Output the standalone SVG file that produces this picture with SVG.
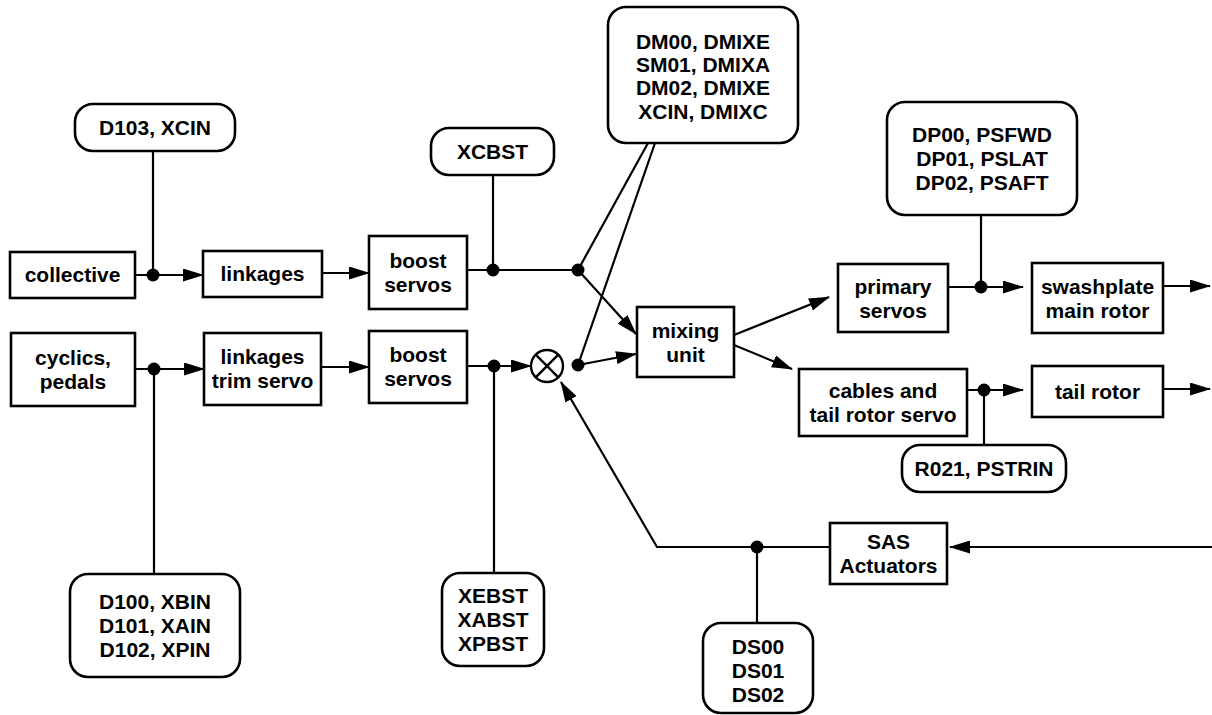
<svg xmlns="http://www.w3.org/2000/svg" width="1212" height="715" viewBox="0 0 1212 715">
  <defs>
    <marker id="arrow" markerUnits="userSpaceOnUse" markerWidth="21" markerHeight="13" refX="20" refY="6.5" orient="auto">
      <path d="M0,0 L21,6.5 L0,13 z" fill="#000"/>
    </marker>
    <style>
      .box { fill: #fff; stroke: #000; stroke-width: 2.6; }
      .tag { fill: #fff; stroke: #000; stroke-width: 2.6; }
      .wire { fill: none; stroke: #000; stroke-width: 2.2; }
      .flow { fill: none; stroke: #000; stroke-width: 2.2; marker-end: url(#arrow); }
      .dot { fill: #000; }
      text { font-family: "Liberation Sans", Arial, Helvetica, sans-serif; font-weight: bold; font-size: 21px; fill: #000; text-anchor: middle; }
    </style>
  </defs>

  <rect width="1212" height="715" fill="#fff"/>

  <!-- connectors -->
  <g id="connectors">
    <!-- collective path -->
    <line class="wire" x1="153" y1="151" x2="153" y2="275"/>
    <line class="flow" x1="135" y1="275" x2="203" y2="275"/>
    <line class="flow" x1="322" y1="273" x2="369" y2="273"/>
    <line class="wire" x1="467" y1="270" x2="578" y2="270"/>
    <line class="wire" x1="493" y1="175" x2="493" y2="270"/>
    <line class="wire" x1="578" y1="270" x2="648" y2="143"/>
    <line class="flow" x1="578" y1="270" x2="636" y2="334"/>

    <!-- cyclic / pedal path -->
    <line class="wire" x1="154" y1="369" x2="154" y2="574"/>
    <line class="flow" x1="135" y1="369" x2="204" y2="369"/>
    <line class="flow" x1="321" y1="367" x2="369" y2="367"/>
    <line class="flow" x1="467" y1="366" x2="531" y2="366"/>
    <line class="wire" x1="494" y1="366" x2="494" y2="573"/>
    <line class="wire" x1="578" y1="365" x2="655" y2="143"/>
    <line class="flow" x1="578" y1="365" x2="636" y2="354"/>

    <!-- mixing unit outputs -->
    <line class="flow" x1="734" y1="335" x2="829" y2="297"/>
    <line class="flow" x1="734" y1="345" x2="792" y2="369"/>

    <!-- main rotor branch -->
    <line class="wire" x1="981" y1="215" x2="981" y2="287"/>
    <line class="flow" x1="948" y1="287" x2="1023" y2="287"/>
    <line class="flow" x1="1163" y1="286" x2="1210" y2="286"/>

    <!-- tail rotor branch -->
    <line class="wire" x1="984" y1="390" x2="984" y2="445"/>
    <line class="flow" x1="967" y1="390" x2="1023" y2="390"/>
    <line class="flow" x1="1163" y1="389" x2="1210" y2="389"/>

    <!-- SAS feedback -->
    <line class="flow" x1="1212" y1="547" x2="950" y2="547"/>
    <line class="wire" x1="757" y1="547" x2="757" y2="623"/>
    <polyline class="flow" points="830,547 657,547 561,382"/>

    <!-- junction dots -->
    <circle class="dot" cx="153" cy="275" r="6.5"/>
    <circle class="dot" cx="493" cy="270" r="6.5"/>
    <circle class="dot" cx="578" cy="270" r="6.5"/>
    <circle class="dot" cx="154" cy="369" r="6.5"/>
    <circle class="dot" cx="494" cy="366" r="6.5"/>
    <circle class="dot" cx="578" cy="365" r="6.5"/>
    <circle class="dot" cx="981" cy="287" r="6.5"/>
    <circle class="dot" cx="984" cy="390" r="6.5"/>
    <circle class="dot" cx="757" cy="547" r="6.5"/>
  </g>

  <!-- summing junction -->
  <g id="summer">
    <circle cx="547" cy="366" r="16" fill="#fff" stroke="#000" stroke-width="2.4"/>
    <line x1="535.7" y1="354.7" x2="558.3" y2="377.3" stroke="#000" stroke-width="2.4"/>
    <line x1="558.3" y1="354.7" x2="535.7" y2="377.3" stroke="#000" stroke-width="2.4"/>
  </g>

  <!-- blocks -->
  <g id="collective">
    <rect class="box" x="10" y="252" width="125" height="46"/>
    <text x="72.5" y="282">collective</text>
  </g>
  <g id="linkages">
    <rect class="box" x="203" y="251" width="119" height="46"/>
    <text x="262.5" y="281">linkages</text>
  </g>
  <g id="cyclics-pedals">
    <rect class="box" x="11" y="333" width="124" height="73"/>
    <text x="73" y="365">cyclics,</text>
    <text x="73" y="389">pedals</text>
  </g>
  <g id="linkages-trim-servo">
    <rect class="box" x="204" y="333" width="117" height="72"/>
    <text x="262.5" y="364">linkages</text>
    <text x="262.5" y="388">trim servo</text>
  </g>
  <g id="boost-servos-collective">
    <rect class="box" x="369" y="236" width="98" height="73"/>
    <text x="418" y="268">boost</text>
    <text x="418" y="292">servos</text>
  </g>
  <g id="boost-servos-cyclic">
    <rect class="box" x="369" y="331" width="98" height="72"/>
    <text x="418" y="362">boost</text>
    <text x="418" y="386">servos</text>
  </g>
  <g id="mixing-unit">
    <rect class="box" x="637" y="307" width="97" height="70"/>
    <text x="685.5" y="338">mixing</text>
    <text x="685.5" y="362">unit</text>
  </g>
  <g id="primary-servos">
    <rect class="box" x="838" y="264" width="110" height="68"/>
    <text x="893" y="294">primary</text>
    <text x="893" y="318">servos</text>
  </g>
  <g id="swashplate-main-rotor">
    <rect class="box" x="1032" y="263" width="131" height="70"/>
    <text x="1097.5" y="294">swashplate</text>
    <text x="1097.5" y="318">main rotor</text>
  </g>
  <g id="cables-tail-rotor-servo">
    <rect class="box" x="799" y="369" width="168" height="67"/>
    <text x="883" y="398">cables and</text>
    <text x="883" y="422">tail rotor servo</text>
  </g>
  <g id="tail-rotor">
    <rect class="box" x="1032" y="366" width="131" height="51"/>
    <text x="1097.5" y="399">tail rotor</text>
  </g>
  <g id="sas-actuators">
    <rect class="box" x="830" y="523" width="117" height="61"/>
    <text x="888.5" y="549">SAS</text>
    <text x="888.5" y="573">Actuators</text>
  </g>

  <!-- variable tags -->
  <g id="tag-d103">
    <rect class="tag" x="75" y="104" width="160" height="47" rx="18"/>
    <text x="155" y="135">D103, XCIN</text>
  </g>
  <g id="tag-xcbst">
    <rect class="tag" x="431" y="128" width="123" height="47" rx="18"/>
    <text x="492.5" y="159">XCBST</text>
  </g>
  <g id="tag-mixer">
    <rect class="tag" x="608" y="7" width="190" height="136" rx="18"/>
    <text x="703" y="49">DM00, DMIXE</text>
    <text x="703" y="72">SM01, DMIXA</text>
    <text x="703" y="95">DM02, DMIXE</text>
    <text x="703" y="119">XCIN, DMIXC</text>
  </g>
  <g id="tag-primary">
    <rect class="tag" x="887" y="102" width="190" height="113" rx="18"/>
    <text x="982" y="142">DP00, PSFWD</text>
    <text x="982" y="166">DP01, PSLAT</text>
    <text x="982" y="190">DP02, PSAFT</text>
  </g>
  <g id="tag-r021">
    <rect class="tag" x="902" y="445" width="164" height="47" rx="18"/>
    <text x="984" y="476">R021, PSTRIN</text>
  </g>
  <g id="tag-d100">
    <rect class="tag" x="70" y="574" width="170" height="103" rx="18"/>
    <text x="155" y="609">D100, XBIN</text>
    <text x="155" y="633">D101, XAIN</text>
    <text x="155" y="657">D102, XPIN</text>
  </g>
  <g id="tag-xebst">
    <rect class="tag" x="442" y="573" width="102" height="93" rx="18"/>
    <text x="493" y="603">XEBST</text>
    <text x="493" y="627">XABST</text>
    <text x="493" y="651">XPBST</text>
  </g>
  <g id="tag-ds">
    <rect class="tag" x="703" y="623" width="110" height="90" rx="18"/>
    <text x="758" y="654">DS00</text>
    <text x="758" y="678">DS01</text>
    <text x="758" y="702">DS02</text>
  </g>
</svg>
